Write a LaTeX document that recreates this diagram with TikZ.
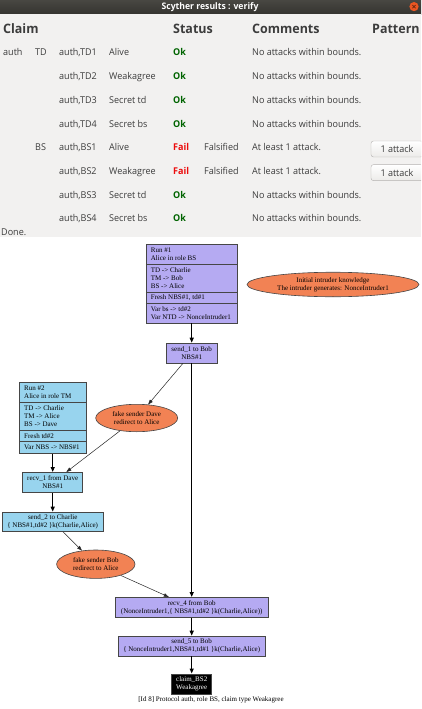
\documentclass[tikz,border=0pt]{standalone}
\usepackage{fontspec}
\setmainfont{Liberation Serif}
\newfontfamily\uifont[FakeStretch=0.96]{Open Sans}
\newfontfamily\gvfont{Liberation Serif}
\usetikzlibrary{arrows.meta,shapes.geometric}

\definecolor{titletop}{RGB}{72,71,66}
\definecolor{titlebot}{RGB}{52,51,47}
\definecolor{closebtn}{RGB}{234,86,34}
\definecolor{panel}{RGB}{242,241,240}
\definecolor{uitext}{RGB}{60,60,60}
\definecolor{okgreen}{RGB}{0,100,0}
\definecolor{failred}{RGB}{236,12,12}
\definecolor{btnborder}{RGB}{180,178,176}
\definecolor{btnfill}{RGB}{236,235,233}
\definecolor{bspurple}{RGB}{181,170,242}
\definecolor{tmblue}{RGB}{152,212,238}
\definecolor{intorange}{RGB}{242,130,84}
\definecolor{gvline}{RGB}{70,70,70}

\begin{document}
\begin{tikzpicture}[x=1pt,y=-1pt,
  uibase/.style={inner sep=0pt, anchor=base west, text=uitext,
    font=\uifont\fontsize{9.4}{11}\selectfont},
  uihead/.style={uibase, font=\uifont\bfseries\fontsize{13}{15}\selectfont},
  okstat/.style={uibase, text=okgreen, font=\uifont\bfseries\fontsize{9.4}{11}\selectfont},
  failstat/.style={okstat, text=failred},
  uibutton/.style={draw=btnborder, top color=white, bottom color=btnfill,
    rounded corners=2.5pt, minimum width=52pt, minimum height=16pt, inner sep=0pt,
    text=uitext, font=\uifont\fontsize{9.4}{11}\selectfont},
  gvtext/.style={font=\gvfont\fontsize{7}{8}\selectfont, inner sep=0pt},
  recbox/.style={draw=gvline, line width=0.6pt, inner sep=0pt, gvtext, align=center},
  bsrun/.style={recbox, fill=bspurple},
  tmrun/.style={recbox, fill=tmblue},
  claimbox/.style={recbox, fill=black, text=white},
  intruder/.style={ellipse, draw=gvline, line width=0.6pt, fill=intorange,
    inner sep=0pt, gvtext, align=center},
  reclabel/.style={gvtext, anchor=west, align=left},
  divider/.style={draw=gvline, line width=0.6pt},
  runedge/.style={line width=1.2pt, -{Triangle[length=5pt,width=4pt]}},
  msgedge/.style={line width=0.5pt, draw=black!85, -{Triangle[length=5pt,width=3.5pt]}},
]
\useasboundingbox (0,0) rectangle (421,709);
\clip (0,0) rectangle (421,709);

% window frame
\shade[top color=titletop, bottom color=titlebot] (0,0) rectangle (421,14.5);
\fill[panel] (0,14.5) rectangle (421,237);
\fill[white] (0,237) rectangle (421,709);
\node[text=white, font=\uifont\bfseries\fontsize{9}{10}\selectfont, inner sep=0pt]
  (wintitle) at (210,7.2) {Scyther results : verify};
\fill[closebtn] (414,6.6) circle (4.6pt);
\draw[line width=0.7pt, draw=black!55!closebtn] (412.4,5) -- (415.6,8.2) (412.4,8.2) -- (415.6,5);

% result table
\node[uihead] (hclaim) at (3,33.3) {Claim};
\node[uihead] (hstatus) at (173,33.3) {Status};
\node[uihead] (hcomments) at (252,33.3) {Comments};
\node[uihead] (hpattern) at (372,33.3) {Pattern};

\node[uibase] (proto) at (3,56) {auth};
\node[uibase] (roleTD) at (35,56) {TD};
\node[uibase] (roleBS) at (35,150.7) {BS};

\foreach \n/\cl/\ty in {1/TD1/Alive,2/TD2/Weakagree,3/TD3/Secret td,4/TD4/Secret bs,
                        5/BS1/Alive,6/BS2/Weakagree,7/BS3/Secret td,8/BS4/Secret bs}{
  \node[uibase] (claim\n) at (59,{56+(\n-1)*23.67}) {auth,\cl};
  \node[uibase] (type\n) at (109,{56+(\n-1)*23.67}) {\ty};
}
\foreach \n in {1,2,3,4,7,8}{
  \node[okstat] (status\n) at (173,{56+(\n-1)*23.67}) {Ok};
  \node[uibase] (comment\n) at (252,{56+(\n-1)*23.67}) {No attacks within bounds.};
}
\foreach \n in {5,6}{
  \node[failstat] (status\n) at (173,{56+(\n-1)*23.67}) {Fail};
  \node[uibase] (verdict\n) at (204,{56+(\n-1)*23.67}) {Falsified};
  \node[uibase] (comment\n) at (252,{56+(\n-1)*23.67}) {At least 1 attack.};
  \node[uibutton] (attack\n) at (397,{56+(\n-1)*23.67-1.7}) {1 attack};
}
\node[uibase] (done) at (1,235) {Done.};

% run of role BS
\node[bsrun, minimum width=91pt, minimum height=79pt] (run1) at (191.7,283.5) {};
\draw[divider] (run1.west |- 0,264) -- (run1.east |- 0,264);
\draw[divider] (run1.west |- 0,292) -- (run1.east |- 0,292);
\draw[divider] (run1.west |- 0,303) -- (run1.east |- 0,303);
\node[reclabel] (run1who) at (150.7,254) {Run \#1\\Alice in role BS};
\node[reclabel] (run1roles) at (150.7,278) {TD -> Charlie\\TM -> Bob\\BS -> Alice};
\node[reclabel] (run1fresh) at (150.7,297.5) {Fresh NBS\#1, td\#1};
\node[reclabel] (run1vars) at (150.7,313) {Var bs -> td\#2\\Var NTD -> NonceIntruder1};

\node[intruder, minimum width=172pt, minimum height=24.5pt] (initknow) at (333,284.5)
  {Initial intruder knowledge\\The intruder generates: NonceIntruder1};

\node[bsrun, minimum width=50.6pt, minimum height=20pt] (send1) at (191.7,353)
  {send\_1 to Bob\\NBS\#1};

% run of role TM
\node[tmrun, minimum width=66.7pt, minimum height=71.3pt] (run2) at (52.7,417.7) {};
\draw[divider] (run2.west |- 0,402.3) -- (run2.east |- 0,402.3);
\draw[divider] (run2.west |- 0,430) -- (run2.east |- 0,430);
\draw[divider] (run2.west |- 0,441.7) -- (run2.east |- 0,441.7);
\node[reclabel] (run2who) at (24,392.2) {Run \#2\\Alice in role TM};
\node[reclabel] (run2roles) at (24,416.2) {TD -> Charlie\\TM -> Alice\\BS -> Dave};
\node[reclabel] (run2fresh) at (24,435.9) {Fresh td\#2};
\node[reclabel] (run2vars) at (24,447.5) {Var NBS -> NBS\#1};

\node[intruder, minimum width=82pt, minimum height=27.4pt] (fakedave) at (136.7,418)
  {fake sender Dave\\redirect to Alice};

\node[tmrun, minimum width=60pt, minimum height=20.4pt] (recv1) at (52.7,482.5)
  {recv\_1 from Dave\\NBS\#1};
\node[tmrun, minimum width=101.3pt, minimum height=19.5pt] (send2) at (52.7,521.7)
  {send\_2 to Charlie\\\{ NBS\#1,td\#2 \}k(Charlie,Alice)};

\node[intruder, minimum width=78.4pt, minimum height=28.4pt] (fakebob) at (95.8,564.2)
  {fake sender Bob\\redirect to Alice};

\node[bsrun, minimum width=152.6pt, minimum height=20pt] (recv4) at (191.7,607.3)
  {recv\_4 from Bob\\(NonceIntruder1,\{ NBS\#1,td\#2 \}k(Charlie,Alice))};
\node[bsrun, minimum width=147.7pt, minimum height=20pt] (send5) at (191.7,646)
  {send\_5 to Bob\\\{ NonceIntruder1,NBS\#1,td\#1 \}k(Charlie,Alice)};
\node[claimbox, minimum width=40pt, minimum height=20.3pt] (claimnode) at (191.7,684)
  {claim\_BS2\\Weakagree};
\node[gvtext] (caption) at (211,700.3)
  {[Id 8] Protocol auth, role BS, claim type Weakagree};

% connectors
\draw[runedge] (run1) -- (send1);
\draw[msgedge] (send1) -- (fakedave);
\draw[runedge] (send1) -- (recv4);
\draw[runedge] (run2) -- (recv1);
\draw[msgedge] (fakedave) -- (recv1);
\draw[runedge] (recv1) -- (send2);
\draw[msgedge] (send2) -- (fakebob);
\draw[msgedge] (fakebob) -- (recv4);
\draw[runedge] (recv4) -- (send5);
\draw[runedge] (send5) -- (claimnode);
\end{tikzpicture}
\end{document}
